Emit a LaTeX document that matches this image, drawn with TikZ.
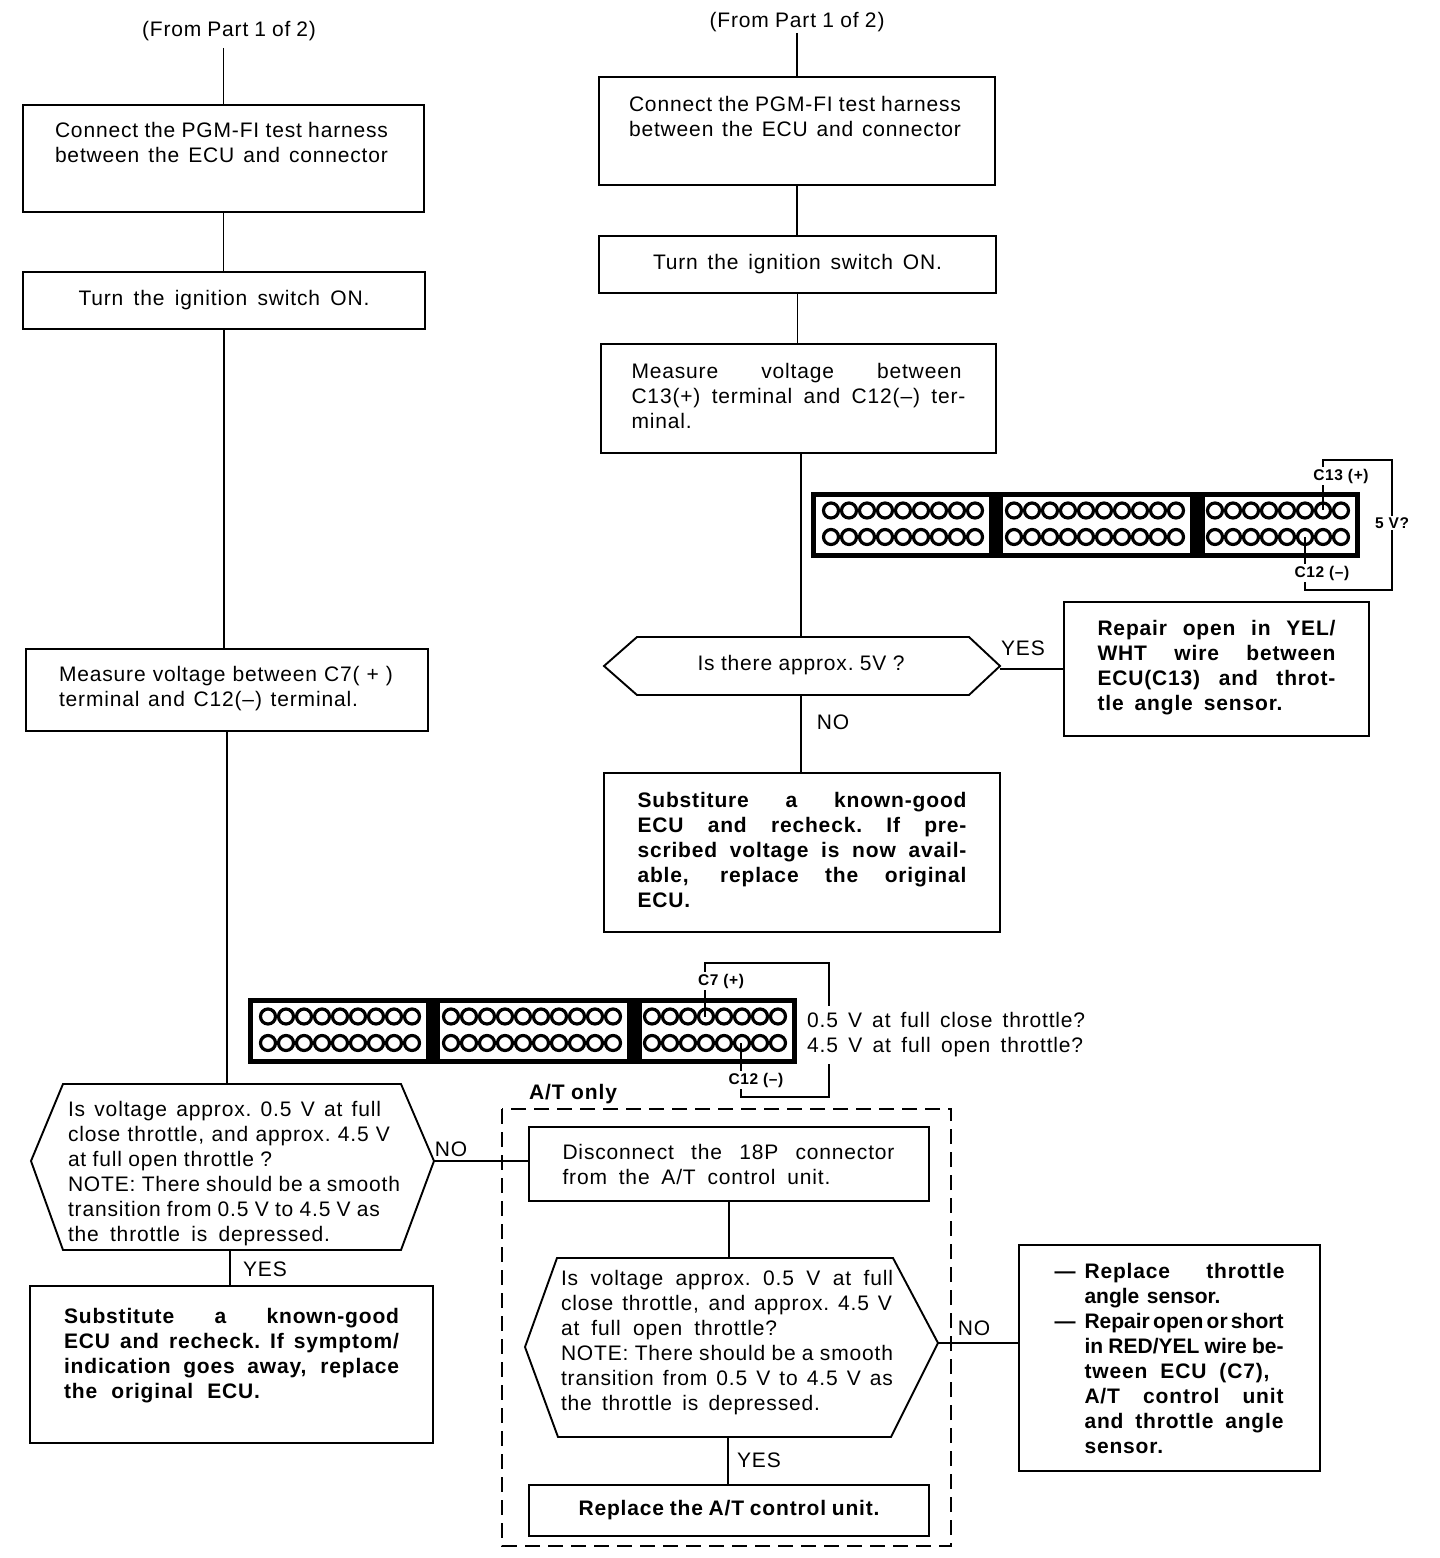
\documentclass[tikz,border=0pt]{standalone}
\usepackage{fontspec}
\setmainfont[LetterSpace=4]{Liberation Sans}
\usetikzlibrary{positioning}

\newcommand{\jl}[2][\hsize]{\makebox[#1][s]{\spaceskip=\fontdimen2\font plus 1fil minus 1fil\xspaceskip=\spaceskip #2}}
\newcommand{\tight}{\addfontfeature{LetterSpace=0}}
\newcommand{\ecublock}{%
  \fill[black] (0,0) rectangle (549,66);
  \fill[white] (5,5) rectangle (178,61);
  \fill[white] (192,5) rectangle (379,61);
  \fill[white] (394,5) rectangle (544,61);
  \foreach \cy in {18.5,45} {
    \foreach \cx in {20,38,...,164} \draw[pin] (\cx,\cy) circle (7.5);
    \foreach \cx in {203,221,...,365} \draw[pin] (\cx,\cy) circle (7.5);
    \foreach \cx in {404,422,...,530} \draw[pin] (\cx,\cy) circle (7.5);
  }%
}

\tikzset{
  txt/.style={font=\fontsize{21}{25}\selectfont},
  boldtxt/.style={font=\fontsize{21}{25}\selectfont\bfseries},
  stepbox/.style={draw, line width=1.9pt, inner xsep=0pt, inner ysep=0pt, align=left, txt},
  hexatext/.style={inner sep=0pt, align=left, txt},
  hexaline/.style={draw, line width=1.9pt, line join=miter},
  link/.style={line width=1.9pt},
  pin/.style={line width=3.2pt},
  wire/.style={line width=1.9pt},
  tag/.style={inner sep=1pt, txt},
  pinlabel/.style={fill=white, inner xsep=1pt, inner ysep=2pt, font=\fontsize{15.5}{17}\selectfont\bfseries},
  size/.style 2 args={minimum width=#1pt, minimum height=#2pt}
}

\begin{document}
\begin{tikzpicture}[x=1pt,y=-1pt]
\useasboundingbox (0,0) rectangle (1440,1558);

% Left column
\node[tag] (fromleft) at (229,31) {\jl[174pt]{(From Part 1 of 2)}};
\node[stepbox, size={401}{107}, text width=337pt, text depth=58pt] (connectleft) at (223.5,158.5)
  {\jl[333pt]{Connect the PGM-FI test harness}\\\jl[333pt]{between the ECU and connector}};
\node[stepbox, size={402}{57}, align=center, text width=340pt] (ignitionleft) at (224,300.5)
  {\jl[291pt]{Turn the ignition switch ON.}};
\node[stepbox, size={402}{82}, text width=336pt, text depth=33pt] (measureleft) at (227,690)
  {\jl[334pt]{Measure voltage between C7( + )}\\\jl[299pt]{terminal and C12(--) terminal.}};
\draw[hexaline] (31,1161) coordinate (hexaleftw) -- (63,1084) -- (401,1084)
  -- (434,1161) coordinate (hexalefte) -- (401,1250) -- (63,1250) -- cycle;
\coordinate (hexaleftn) at (228,1084);
\coordinate (hexalefts) at (230,1250);
\node[hexatext, text width=334pt] (hexaleft) at (235,1173.5)
  {\jl[313pt]{Is voltage approx. 0.5 V at full}\\
   \jl[322pt]{close throttle, and approx. 4.5 V}\\
   \jl[204pt]{at full open throttle ?}\\
   \jl[332pt]{NOTE: There should be a smooth}\\
   \jl[312pt]{transition from 0.5 V to 4.5 V as}\\
   \jl[262pt]{the throttle is depressed.}};
\node[stepbox, size={403}{157}, text width=335pt, text depth=98pt, boldtxt] (substleft) at (231.5,1364.5)
  {\jl[335pt]{Substitute a known-good}\\\jl[335pt]{ECU and recheck. If symptom/}\\\jl[335pt]{indication goes away, replace}\\\jl[196pt]{the original ECU.}};
\node[tag] (yesleft) at (265,1269) {YES};
\node[tag] (noleft) at (451,1149) {NO};

\draw[link] ([yshift=-6pt]connectleft.north |- fromleft.south) -- (connectleft.north);
\draw[link] (connectleft.south) -- (connectleft.south |- ignitionleft.north);
\draw[link] (ignitionleft.south) -- (ignitionleft.south |- measureleft.north);
\draw[link, line width=2.2pt] (measureleft.south) -- (measureleft.south |- hexaleftn);
\draw[link] (hexalefts) -- (hexalefts |- substleft.north);

% Right column
\node[tag] (fromright) at (797,22) {\jl[175pt]{(From Part 1 of 2)}};
\node[stepbox, size={396}{108}, text width=336pt, text depth=55pt] (connectright) at (797,131)
  {\jl[332pt]{Connect the PGM-FI test harness}\\\jl[332pt]{between the ECU and connector}};
\node[stepbox, size={397}{57}, align=center, text width=340pt] (ignitionright) at (797.5,264.5)
  {\jl[289pt]{Turn the ignition switch ON.}};
\node[stepbox, size={395}{109}, text width=334pt, text depth=56pt] (measureright) at (798.5,398.5)
  {\jl[330pt]{Measure voltage between}\\\jl[334pt]{C13(+) terminal and C12(--) ter-}\\minal.};
\draw[hexaline] (604,666) -- (637,637) -- (969,637) -- (1000,666) -- (969,695) -- (637,695) -- cycle;
\coordinate (hexarightn) at (801,637);
\coordinate (hexarights) at (801,695);
\coordinate (hexrighte) at (1000,669);
\node[hexatext] (hexaright) at (801,665) {\jl[207pt]{Is there approx. 5V ?}};
\node[stepbox, size={305}{134}, text width=238pt, text depth=83pt, boldtxt] (repair) at (1216.5,669)
  {\jl[238pt]{Repair open in YEL/}\\\jl[238pt]{WHT wire between}\\\jl[238pt]{ECU(C13) and throt-}\\\jl[185pt]{tle angle sensor.}};
\node[stepbox, size={396}{159}, text width=329pt, text depth=106pt, boldtxt] (substright) at (802,852.5)
  {\jl[329pt]{Substiture a known-good}\\\jl[329pt]{ECU and recheck. If pre-}\\\jl[329pt]{scribed voltage is now avail-}\\\jl[329pt]{able, replace the original}\\ECU.};
\node[tag] (yesright) at (1023,648) {YES};
\node[tag] (noright) at (833,722) {NO};

\draw[link] (fromright.south) -- (fromright.south |- connectright.north);
\draw[link] (connectright.south) -- (connectright.south |- ignitionright.north);
\draw[link] (ignitionright.south) -- (ignitionright.south |- measureright.north);
\draw[link] (hexarightn |- measureright.south) -- (hexarightn);
\draw[link] (hexarights) -- (hexarights |- substright.north);
\draw[link] (hexrighte) -- (hexrighte -| repair.west);

% Upper connector
\begin{scope}[shift={(811,492)}]
\ecublock
\end{scope}
\coordinate (cthirteen) at (1323,510);
\coordinate (ctwelve) at (1305,537);
\coordinate (cornertop) at (1392,460);
\coordinate (cornerbot) at (1392,590);
\draw[wire] (cthirteen) |- (cornertop) -- (cornerbot) -| (ctwelve);
\node[pinlabel] (labelcthirteen) at (1341,476) {C13 (+)};
\node[pinlabel] (labelctwelve) at (1322,573) {C12 (--)};
\node[pinlabel] (labelfive) at (1392,523) {5 V?};

% Lower connector
\begin{scope}[shift={(248,998)}]
\ecublock
\end{scope}
\coordinate (cseven) at (705,1017);
\coordinate (clow) at (741,1043);
\coordinate (cornerc) at (829,963);
\coordinate (cornerd) at (829,1097);
\draw[wire] (cseven) |- (cornerc) -- (cornerd) -| (clow);
\node[pinlabel] (labelcseven) at (721,981) {C7 (+)};
\node[pinlabel] (labelclow) at (756,1080) {C12 (--)};
\node[fill=white, inner xsep=0pt, inner ysep=7pt, align=left, anchor=west, txt] (throttle) at (807,1035)
  {\jl[278pt]{0.5 V at full close throttle?}\\\jl[276pt]{4.5 V at full open throttle?}};

% A/T only
\draw[line width=1.9pt, dash pattern=on 15pt off 8pt] (502,1109) rectangle (951,1546);
\node[tag, boldtxt] (atonly) at (573,1094) {A/T only};
\node[stepbox, size={400}{74}, text width=333pt] (disconnect) at (729,1164)
  {\jl[332pt]{Disconnect the 18P connector}\\\jl[268pt]{from the A/T control unit.}};
\draw[hexaline] (525,1347) coordinate (hexaatw) -- (557,1258) -- (893,1258)
  -- (938,1343) coordinate (hexaate) -- (891,1437) -- (558,1437) -- cycle;
\coordinate (hexaatn) at (729,1258);
\coordinate (hexaats) at (728,1437);
\node[hexatext, text width=334pt] (hexaat) at (728,1343)
  {\jl[332pt]{Is voltage approx. 0.5 V at full}\\
   \jl[331pt]{close throttle, and approx. 4.5 V}\\
   \jl[216pt]{at full open throttle?}\\
   \jl[332pt]{NOTE: There should be a smooth}\\
   \jl[332pt]{transition from 0.5 V to 4.5 V as}\\
   \jl[259pt]{the throttle is depressed.}};
\node[stepbox, size={400}{51}, align=center, text width=340pt, boldtxt] (replaceat) at (729,1510.5)
  {\jl[301pt]{Replace the A/T control unit.}};
\node[tag] (yesat) at (759,1460) {YES};
\node[tag] (noat) at (974,1328) {NO};
\node[stepbox, size={301}{226}, text width=230pt, boldtxt] (replaceright) at (1169.5,1358)
  {\jl[230pt]{\makebox[30pt][l]{---}Replace throttle}\\
   \hspace*{30pt}\jl[136pt]{\tight angle sensor.}\\
   \jl[229pt]{\makebox[30pt][l]{---}\tight Repair open or short}\\
   \hspace*{30pt}\jl[199pt]{\tight in RED/YEL wire be-}\\
   \hspace*{30pt}\jl[185pt]{tween ECU (C7),}\\
   \hspace*{30pt}\jl[199pt]{A/T control unit}\\
   \hspace*{30pt}\jl[199pt]{and throttle angle}\\
   \hspace*{30pt}sensor.};

\draw[link] (hexalefte) -- (hexalefte -| disconnect.west);
\draw[link] (disconnect.south) -- (hexaatn);
\draw[link] (hexaats) -- (hexaats |- replaceat.north);
\draw[link] (hexaate) -- (hexaate -| replaceright.west);
\end{tikzpicture}
\end{document}
